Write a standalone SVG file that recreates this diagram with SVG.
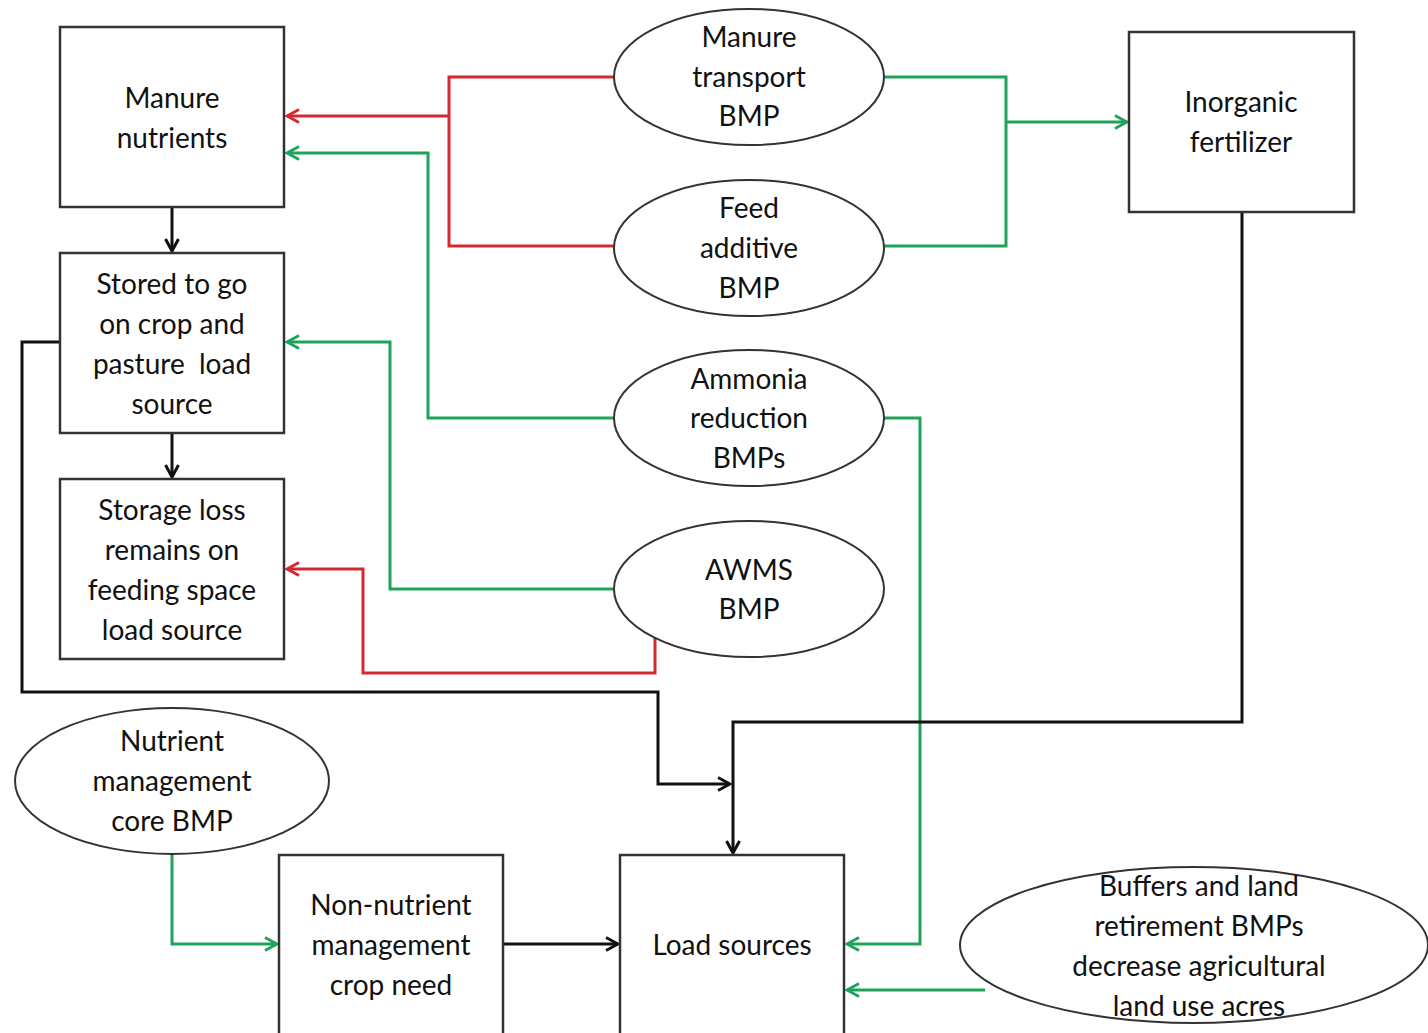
<svg xmlns="http://www.w3.org/2000/svg" width="1428" height="1033" viewBox="0 0 1428 1033">
<style>
.box{fill:#fff;stroke:#333;stroke-width:2.5}
.ell{fill:#fff;stroke:#333;stroke-width:2}
text{font-family:Lato,"Open Sans","Liberation Sans",sans-serif;font-size:28px;fill:#111;text-anchor:middle}
.red{fill:none;stroke:#d42a2f;stroke-width:3}
.grn{fill:none;stroke:#1fa35b;stroke-width:3}
.blk{fill:none;stroke:#111;stroke-width:3}
</style>
<defs>
<marker id="ar" viewBox="0 0 16 16" refX="14" refY="8" markerWidth="16" markerHeight="16" markerUnits="userSpaceOnUse" orient="auto"><path d="M2,1.5 L14,8 L2,14.5" fill="none" stroke="#d42a2f" stroke-width="3"/></marker>
<marker id="ag" viewBox="0 0 16 16" refX="14" refY="8" markerWidth="16" markerHeight="16" markerUnits="userSpaceOnUse" orient="auto"><path d="M2,1.5 L14,8 L2,14.5" fill="none" stroke="#1fa35b" stroke-width="3"/></marker>
<marker id="ab" viewBox="0 0 16 16" refX="14" refY="8" markerWidth="16" markerHeight="16" markerUnits="userSpaceOnUse" orient="auto"><path d="M2,1.5 L14,8 L2,14.5" fill="none" stroke="#111" stroke-width="3"/></marker>
</defs>
<rect width="1428" height="1033" fill="#fff"/>
<g id="connectors">
<path class="red" d="M614,77 H449 V246 H614"/>
<path class="red" d="M449,116 H287" marker-end="url(#ar)"/>
<path class="grn" d="M614,418 H428 V153 H287" marker-end="url(#ag)"/>
<path class="grn" d="M614,589 H390 V342 H287" marker-end="url(#ag)"/>
<path class="red" d="M655,636 V673 H363 V569 H287" marker-end="url(#ar)"/>
<path class="grn" d="M884,77 H1006 V246 H884"/>
<path class="grn" d="M1006,122 H1127" marker-end="url(#ag)"/>
<path class="grn" d="M884,418 H920 V944 H847" marker-end="url(#ag)"/>
<path class="blk" d="M60,342 H22 V692 H658 V784 H730" marker-end="url(#ab)"/>
<path class="blk" d="M1242,212 V722 H733 V853" marker-end="url(#ab)"/>
<path class="blk" d="M172,207 V251" marker-end="url(#ab)"/>
<path class="blk" d="M172,433 V477" marker-end="url(#ab)"/>
<path class="grn" d="M172,854 V944 H277" marker-end="url(#ag)"/>
<path class="blk" d="M503,944 H618" marker-end="url(#ab)"/>
<path class="grn" d="M985,990 H847" marker-end="url(#ag)"/>
</g>
<g id="manure-nutrients"><rect class="box" x="60" y="27" width="224" height="180"/><text x="172" y="108">Manure</text><text x="172" y="148">nutrients</text></g>
<g id="stored"><rect class="box" x="60" y="253" width="224" height="180"/><text x="172" y="294">Stored to go</text><text x="172" y="334">on crop and</text><text x="172" y="374">pasture&#160; load</text><text x="172" y="414">source</text></g>
<g id="storage-loss"><rect class="box" x="60" y="479" width="224" height="180"/><text x="172" y="520">Storage loss</text><text x="172" y="560">remains on</text><text x="172" y="600">feeding space</text><text x="172" y="640">load source</text></g>
<g id="inorganic-fertilizer"><rect class="box" x="1129" y="32" width="225" height="180"/><text x="1241" y="112">Inorganic</text><text x="1241" y="152">fertilizer</text></g>
<g id="non-nutrient"><rect class="box" x="279" y="855" width="224" height="190"/><text x="391" y="915">Non-nutrient</text><text x="391" y="955">management</text><text x="391" y="995">crop need</text></g>
<g id="load-sources"><rect class="box" x="620" y="855" width="224" height="190"/><text x="732" y="955">Load sources</text></g>
<g id="manure-transport"><ellipse class="ell" cx="749" cy="77" rx="135" ry="68"/><text x="749" y="47">Manure</text><text x="749" y="87">transport</text><text x="749" y="126">BMP</text></g>
<g id="feed-additive"><ellipse class="ell" cx="749" cy="248" rx="135" ry="68"/><text x="749" y="218">Feed</text><text x="749" y="258">additive</text><text x="749" y="298">BMP</text></g>
<g id="ammonia"><ellipse class="ell" cx="749" cy="418" rx="135" ry="68"/><text x="749" y="389">Ammonia</text><text x="749" y="428">reduction</text><text x="749" y="468">BMPs</text></g>
<g id="awms"><ellipse class="ell" cx="749" cy="589" rx="135" ry="68"/><text x="749" y="580">AWMS</text><text x="749" y="619">BMP</text></g>
<g id="nutrient-management"><ellipse class="ell" cx="172" cy="781" rx="157" ry="73"/><text x="172" y="751">Nutrient</text><text x="172" y="791">management</text><text x="172" y="831">core BMP</text></g>
<g id="buffers"><ellipse class="ell" cx="1194" cy="945" rx="234" ry="78"/><text x="1199" y="896">Buffers and land</text><text x="1199" y="936">retirement BMPs</text><text x="1199" y="976">decrease agricultural</text><text x="1199" y="1016">land use acres</text></g>
</svg>
